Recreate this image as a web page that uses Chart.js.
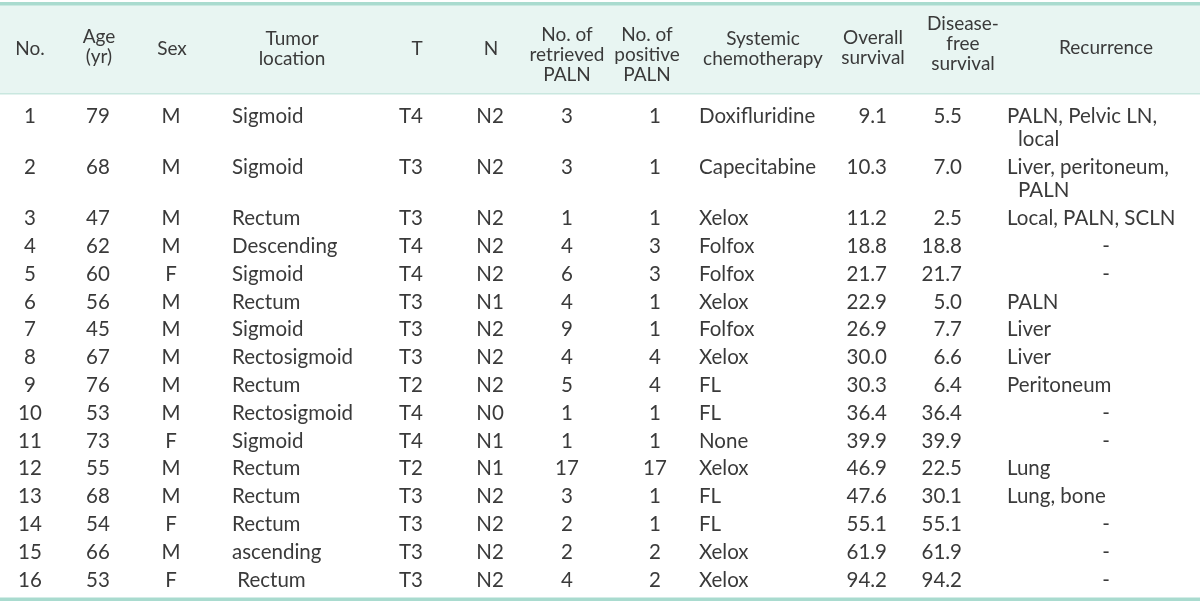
<!DOCTYPE html>
<html>
<head>
<meta charset="utf-8">
<script src="https://cdn.jsdelivr.net/npm/chart.js@4.4.1/dist/chart.umd.min.js"></script>
<style>
  html, body { margin: 0; padding: 0; background: #fff; }
  #wrap { position: relative; width: 1200px; height: 604px; }
</style>
</head>
<body>
<div id="wrap"><canvas id="tabla"></canvas></div>
<script>
// table content
const headers = [
  ["No."], ["Age", "(yr)"], ["Sex"], ["Tumor", "location"], ["T"], ["N"],
  ["No. of", "retrieved", "PALN"], ["No. of", "positive", "PALN"],
  ["Systemic", "chemotherapy"], ["Overall", "survival"],
  ["Disease-", "free", "survival"], ["Recurrence"]
];
const caseNo = ["1", "2", "3", "4", "5", "6", "7", "8", "9", "10", "11", "12", "13", "14", "15", "16"];
const ages = [79, 68, 47, 62, 60, 56, 45, 67, 76, 53, 73, 55, 68, 54, 66, 53];
const sexes = ["M", "M", "M", "M", "F", "M", "M", "M", "M", "M", "F", "M", "M", "F", "M", "F"];
const tumorLocation = ["Sigmoid", "Sigmoid", "Rectum", "Descending", "Sigmoid", "Rectum", "Sigmoid", "Rectosigmoid",
  "Rectum", "Rectosigmoid", "Sigmoid", "Rectum", "Rectum", "Rectum", "ascending", " Rectum"];
const tStage = ["T4", "T3", "T3", "T4", "T4", "T3", "T3", "T3", "T2", "T4", "T4", "T2", "T3", "T3", "T3", "T3"];
const nStage = ["N2", "N2", "N2", "N2", "N2", "N1", "N2", "N2", "N2", "N0", "N1", "N1", "N2", "N2", "N2", "N2"];
const retrievedPaln = [3, 3, 1, 4, 6, 4, 9, 4, 5, 1, 1, 17, 3, 2, 2, 4];
const positivePaln = [1, 1, 1, 3, 3, 1, 1, 4, 4, 1, 1, 17, 1, 1, 2, 2];
const chemotherapy = ["Doxifluridine", "Capecitabine", "Xelox", "Folfox", "Folfox", "Xelox", "Folfox", "Xelox",
  "FL", "FL", "None", "Xelox", "FL", "FL", "Xelox", "Xelox"];
const overallSurvival = [9.1, 10.3, 11.2, 18.8, 21.7, 22.9, 26.9, 30.0, 30.3, 36.4, 39.9, 46.9, 47.6, 55.1, 61.9, 94.2];
const diseaseFreeSurvival = [5.5, 7.0, 2.5, 18.8, 21.7, 5.0, 7.7, 6.6, 6.4, 36.4, 39.9, 22.5, 30.1, 55.1, 61.9, 94.2];
const recurrence = [
  ["PALN, Pelvic LN,", "local"], ["Liver, peritoneum,", "PALN"], ["Local, PALN, SCLN"], ["-"], ["-"],
  ["PALN"], ["Liver"], ["Liver"], ["Peritoneum"], ["-"], ["-"], ["Lung"], ["Lung, bone"], ["-"], ["-"], ["-"]
];

// layout (pixel units on the linear scales)
const BODY_FONT = '20.5px Lato, "Open Sans", sans-serif';
const HEAD_FONT = '19px Lato, "Open Sans", sans-serif';
const TEXT = "#3a3a3a";
const RULE = "#a9dbcf";
const BAND = "#e8f5f2";
const headerX = [30, 99, 172, 292, 417, 491, 567, 647, 763, 873, 963, 1106];
const headerY = [49, 47, 49, 49, 49, 49, 55, 55, 49, 48, 44, 48];
const headerLine = 20;
const columns = [
  { x: 30, align: "center" }, { x: 98, align: "center" }, { x: 171, align: "center" },
  { x: 232, align: "left" }, { x: 411, align: "center" }, { x: 490, align: "center" },
  { x: 567, align: "center" }, { x: 655, align: "center" }, { x: 699, align: "left" },
  { x: 887, align: "right" }, { x: 962, align: "right" }, { x: 1007, align: "left" }
];
const firstRow = 116;
const rowStep = 27.8;
const wrapStep = 23.5;
const wrapIndent = 11;

const cells = caseNo.map((no, i) => [
  [no], [String(ages[i])], [sexes[i]], [tumorLocation[i]], [tStage[i]], [nStage[i]],
  [String(retrievedPaln[i])], [String(positivePaln[i])], [chemotherapy[i]],
  [overallSurvival[i].toFixed(1)], [diseaseFreeSurvival[i].toFixed(1)], recurrence[i]
]);

const rowY = [];
let y = firstRow;
cells.forEach((row) => {
  rowY.push(y);
  const lines = Math.max(...row.map((c) => c.length));
  y += rowStep + (lines - 1) * wrapStep;
});

const datasets = columns.map((col, c) => ({
  label: headers[c].join(" "),
  data: rowY.map((ry) => ({ x: col.x, y: ry })),
  pointRadius: 0,
  pointHoverRadius: 0
}));
datasets.push({
  label: "header",
  data: headerX.map((hx, c) => ({ x: hx, y: headerY[c] })),
  pointRadius: 0,
  pointHoverRadius: 0
});

const tablePlugin = {
  id: "tabla",
  beforeDatasetsDraw(chart) {
    const { ctx, scales: { x, y } } = chart;
    const left = x.getPixelForValue(0);
    const right = x.getPixelForValue(1200);
    ctx.save();
    ctx.fillStyle = BAND;
    ctx.fillRect(left, y.getPixelForValue(5), right - left, y.getPixelForValue(93) - y.getPixelForValue(5));
    ctx.fillStyle = RULE;
    ctx.fillRect(left, y.getPixelForValue(2), right - left, 3.5);
    ctx.fillRect(left, y.getPixelForValue(597.5), right - left, 3.5);
    ctx.fillStyle = "#c9e7df";
    ctx.fillRect(left, y.getPixelForValue(93), right - left, 1.5);
    ctx.restore();
  },
  afterDatasetsDraw(chart) {
    const { ctx } = chart;
    const xs = chart.scales.x;
    ctx.save();
    ctx.fillStyle = TEXT;
    ctx.textBaseline = "middle";
    ctx.font = HEAD_FONT;
    const headerMeta = chart.getDatasetMeta(columns.length);
    headerMeta.data.forEach((pt, c) => {
      const lines = headers[c];
      ctx.textAlign = "center";
      lines.forEach((line, k) => {
        const off = (k - (lines.length - 1) / 2) * headerLine;
        ctx.fillText(line, pt.x, pt.y + off);
      });
    });
    ctx.font = BODY_FONT;
    columns.forEach((col, c) => {
      const meta = chart.getDatasetMeta(c);
      meta.data.forEach((pt, r) => {
        const lines = cells[r][c];
        lines.forEach((line, k) => {
          if (line === "-") {
            ctx.textAlign = "center";
            ctx.fillText(line, xs.getPixelForValue(headerX[c]), pt.y);
            return;
          }
          ctx.textAlign = col.align;
          const indent = k > 0 ? wrapIndent : 0;
          ctx.fillText(line, pt.x + indent, pt.y + k * wrapStep);
        });
      });
    });
    ctx.restore();
  }
};

new Chart(document.getElementById("tabla"), {
  type: "scatter",
  data: { datasets },
  options: {
    responsive: true,
    maintainAspectRatio: false,
    animation: false,
    layout: { padding: 0 },
    plugins: { legend: { display: false }, tooltip: { enabled: false } },
    scales: {
      x: { type: "linear", min: 0, max: 1200, display: false },
      y: { type: "linear", min: 0, max: 604, reverse: true, display: false }
    }
  },
  plugins: [tablePlugin]
});
</script>
</body>
</html>
